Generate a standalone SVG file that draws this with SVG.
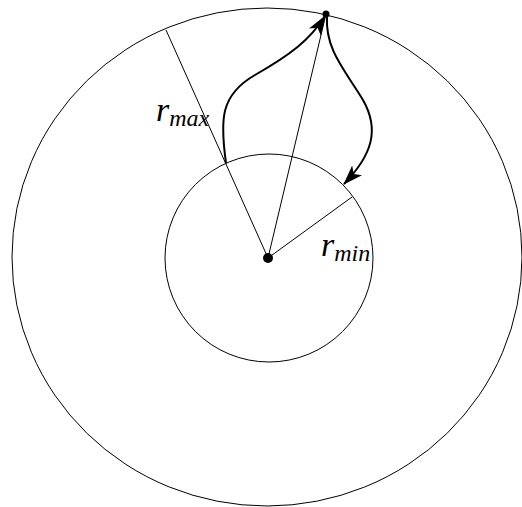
<svg xmlns="http://www.w3.org/2000/svg" width="522" height="507" viewBox="0 0 522 507">
<style>
.thin{fill:none;stroke:#000;stroke-width:1}
.arc{fill:none;stroke:#000;stroke-width:2}
.lbl{font-family:"Liberation Serif","Times New Roman","DejaVu Serif",serif;font-style:italic;fill:#000}
</style>
<defs>
<marker id="ah2" viewBox="0 0 20 14" refX="19" refY="7" markerWidth="20" markerHeight="14" markerUnits="userSpaceOnUse" orient="auto">
<path d="M0,0 L20,7 L0,14 L5,7 Z" fill="#000"/>
</marker>
</defs>
<g id="outer"><ellipse class="thin" cx="267" cy="257" rx="255" ry="249"/></g>
<g id="inner"><circle class="thin" cx="269" cy="258" r="104"/></g>
<g id="connectors">
<line class="thin" x1="268" y1="258" x2="166" y2="30"/>
<line class="thin" x1="268" y1="258" x2="326" y2="14"/>
<line class="thin" x1="268" y1="258" x2="352" y2="197"/>
<path class="arc" d="M226,163 C220,120 220,95 255,75 C290,55 310,40 325,16" marker-end="url(#ah2)"/>
<path class="arc" d="M327,16 C325,50 345,70 363,100 C380,130 372,155 344,184" marker-end="url(#ah2)"/>
</g>
<g id="center"><circle cx="268" cy="258" r="5" fill="#000"/></g>
<g id="top"><circle cx="326" cy="14" r="3.5" fill="#000"/></g>
<g id="rmax"><text class="lbl" x="156" y="121" font-size="34" font-family="Liberation Serif, serif">r<tspan font-size="24" dy="5">max</tspan></text></g>
<g id="rmin"><text class="lbl" x="321" y="256" font-size="34" font-family="Liberation Serif, serif">r<tspan font-size="24" dy="5">min</tspan></text></g>
</svg>
